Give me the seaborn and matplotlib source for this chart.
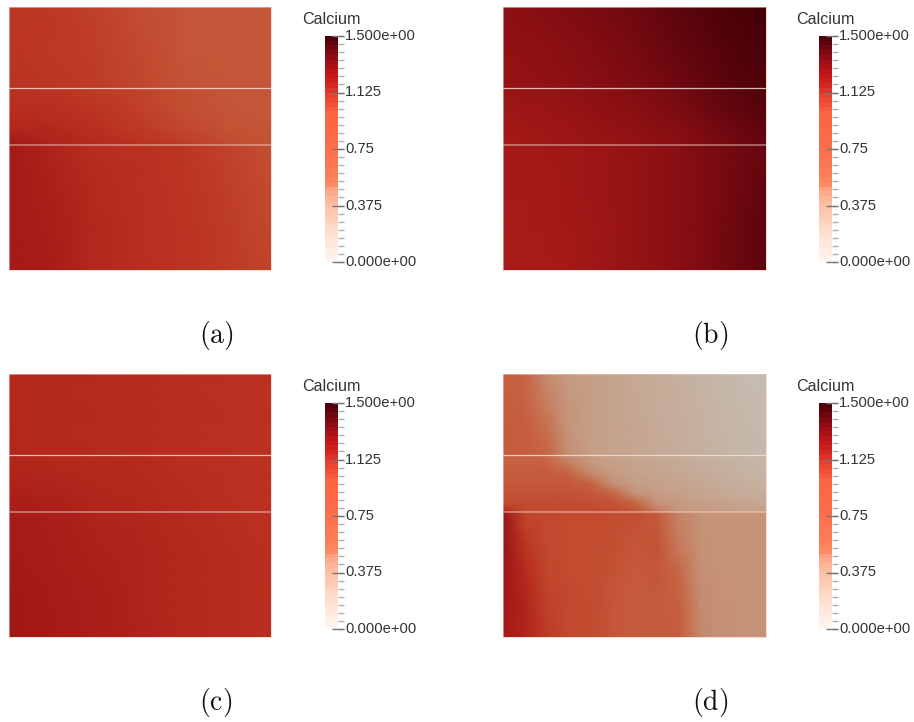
import numpy as np
import matplotlib
matplotlib.use("Agg")
import matplotlib.pyplot as plt
from matplotlib.colors import LinearSegmentedColormap
import seaborn as sns

FIG_W, FIG_H = 914, 722

# colours the field shows on screen (muted by the viewer), value -> colour
field_values = [0.0, 0.2, 0.3, 0.4, 0.5, 0.6, 0.7, 0.8, 0.9, 1.0, 1.1, 1.2, 1.3, 1.4, 1.5]
field_colors = ["#c5c0b6", "#c5bcb0", "#c5b5a6", "#c5ab98", "#c5a088", "#c59378", "#c67f60", "#c66545",
                "#c45336", "#c04028", "#b92e20", "#a81b17", "#8d1013", "#6a0810", "#430006"]

# colour bar stops
bar_values = [0.0, 0.17, 0.3, 0.375, 0.47, 0.5, 0.56, 0.75, 1.0, 1.07, 1.125, 1.2, 1.27, 1.35, 1.42, 1.5]
bar_colors = ["#fff5f0", "#fee0d0", "#fdcab5", "#fdbea4", "#fca588", "#fb8d68", "#fb7f58", "#fb6f4c", "#fa6342",
              "#ef4a34", "#e34030", "#d0201f", "#bf141b", "#9c0e16", "#780812", "#4f000c"]
bar_ticks = [0.0, 0.375, 0.75, 1.125, 1.5]
bar_labels = ["0.000e+00", "0.375", "0.75", "1.125", "1.500e+00"]

# panel a
a_top = [[1.05, 1.04, 1.00, 0.93, 0.89, 0.89, 0.89],
         [1.06, 1.04, 1.01, 0.95, 0.89, 0.89, 0.89],
         [1.07, 1.05, 1.02, 0.97, 0.90, 0.89, 0.89]]
a_mid = [[1.08, 1.06, 1.02, 0.98, 0.92, 0.89, 0.89],
         [1.10, 1.09, 1.05, 1.00, 0.92, 0.89, 0.89],
         [1.13, 1.12, 1.08, 1.03, 0.96, 0.90, 0.89],
         [1.22, 1.16, 1.12, 1.08, 1.03, 0.94, 0.90]]
a_bot = [[1.21, 1.15, 1.10, 1.08, 1.05, 0.99, 0.92],
         [1.21, 1.17, 1.12, 1.09, 1.06, 1.01, 0.94],
         [1.21, 1.18, 1.13, 1.09, 1.07, 1.02, 0.96],
         [1.21, 1.19, 1.13, 1.10, 1.07, 1.03, 0.98]]

# panel b
b_top = [[1.30, 1.32, 1.35, 1.38, 1.43, 1.47, 1.50],
         [1.28, 1.30, 1.33, 1.36, 1.41, 1.45, 1.48],
         [1.26, 1.28, 1.31, 1.34, 1.38, 1.43, 1.46]]
b_mid = [[1.26, 1.27, 1.30, 1.33, 1.37, 1.42, 1.46],
         [1.24, 1.25, 1.28, 1.31, 1.35, 1.41, 1.45],
         [1.22, 1.24, 1.26, 1.29, 1.33, 1.38, 1.43],
         [1.21, 1.23, 1.25, 1.27, 1.31, 1.36, 1.41]]
b_bot = [[1.21, 1.22, 1.24, 1.27, 1.31, 1.36, 1.41],
         [1.21, 1.21, 1.24, 1.27, 1.31, 1.36, 1.42],
         [1.20, 1.21, 1.23, 1.27, 1.31, 1.37, 1.43],
         [1.20, 1.20, 1.23, 1.27, 1.31, 1.37, 1.43]]

# panel c
c_top = [[1.13, 1.13, 1.12, 1.11, 1.10, 1.09, 1.08],
         [1.13, 1.13, 1.12, 1.11, 1.10, 1.09, 1.08],
         [1.14, 1.13, 1.12, 1.11, 1.10, 1.09, 1.08]]
c_mid = [[1.14, 1.13, 1.12, 1.12, 1.10, 1.09, 1.08],
         [1.15, 1.14, 1.13, 1.12, 1.10, 1.09, 1.08],
         [1.17, 1.16, 1.14, 1.13, 1.11, 1.09, 1.08],
         [1.20, 1.18, 1.15, 1.14, 1.12, 1.10, 1.08]]
c_bot = [[1.20, 1.18, 1.15, 1.14, 1.12, 1.10, 1.08],
         [1.21, 1.19, 1.17, 1.15, 1.13, 1.11, 1.09],
         [1.22, 1.20, 1.18, 1.15, 1.13, 1.11, 1.09],
         [1.22, 1.21, 1.18, 1.16, 1.13, 1.11, 1.09]]

# panel d
d_top = [[0.83, 0.80, 0.64, 0.55, 0.50, 0.47, 0.42, 0.40, 0.36, 0.32, 0.27, 0.22, 0.20],
         [0.84, 0.82, 0.70, 0.57, 0.51, 0.47, 0.43, 0.40, 0.37, 0.33, 0.29, 0.24, 0.22],
         [0.85, 0.84, 0.76, 0.59, 0.52, 0.47, 0.44, 0.41, 0.38, 0.34, 0.30, 0.26, 0.24],
         [0.85, 0.85, 0.80, 0.62, 0.52, 0.48, 0.45, 0.42, 0.39, 0.35, 0.32, 0.28, 0.26]]
d_mid = [[0.82, 0.82, 0.78, 0.62, 0.53, 0.49, 0.45, 0.43, 0.40, 0.36, 0.33, 0.30, 0.28],
         [0.83, 0.83, 0.82, 0.72, 0.56, 0.50, 0.47, 0.44, 0.41, 0.38, 0.35, 0.31, 0.29],
         [0.85, 0.85, 0.85, 0.82, 0.66, 0.54, 0.49, 0.46, 0.44, 0.40, 0.37, 0.33, 0.31],
         [0.87, 0.87, 0.87, 0.87, 0.82, 0.62, 0.52, 0.49, 0.46, 0.43, 0.39, 0.36, 0.34],
         [0.90, 0.90, 0.90, 0.90, 0.88, 0.80, 0.60, 0.52, 0.50, 0.46, 0.42, 0.39, 0.37],
         [0.93, 0.93, 0.93, 0.93, 0.92, 0.90, 0.80, 0.60, 0.54, 0.50, 0.47, 0.44, 0.42],
         [1.15, 0.95, 0.95, 0.95, 0.95, 0.94, 0.90, 0.74, 0.58, 0.55, 0.53, 0.51, 0.50]]
d_bot = [[1.25, 0.97, 0.95, 0.94, 0.94, 0.93, 0.92, 0.86, 0.68, 0.60, 0.60, 0.60, 0.60],
         [1.25, 1.05, 0.95, 0.94, 0.94, 0.92, 0.88, 0.90, 0.72, 0.61, 0.60, 0.60, 0.60],
         [1.24, 1.12, 0.97, 0.94, 0.94, 0.90, 0.86, 0.88, 0.80, 0.62, 0.60, 0.60, 0.60],
         [1.22, 1.15, 1.00, 0.95, 0.94, 0.88, 0.85, 0.86, 0.84, 0.64, 0.61, 0.60, 0.60],
         [1.20, 1.15, 1.02, 0.95, 0.94, 0.88, 0.85, 0.85, 0.85, 0.66, 0.61, 0.60, 0.60]]

panels = [("(a)", a_top, a_mid, a_bot), ("(b)", b_top, b_mid, b_bot),
          ("(c)", c_top, c_mid, c_bot), ("(d)", d_top, d_mid, d_bot)]

field_cmap = LinearSegmentedColormap.from_list("field", [(v / 1.5, c) for v, c in zip(field_values, field_colors)])
bar_cmap = LinearSegmentedColormap.from_list("bar", [(v / 1.5, c) for v, c in zip(bar_values, bar_colors)])


def px_axes(x0, y0, x1, y1, **kw):
    return fig.add_axes([x0 / FIG_W, 1 - y1 / FIG_H, (x1 - x0) / FIG_W, (y1 - y0) / FIG_H], **kw)


def draw_region(grid, x0, y0, x1, y1):
    ax = px_axes(x0, y0, x1, y1)
    grid = np.array(grid)
    sns.heatmap(grid, ax=ax, cmap=field_cmap, vmin=0, vmax=1.5, cbar=False, shading="gouraud",
                xticklabels=False, yticklabels=False)
    ax.set_xlim(0, grid.shape[1] - 1)
    ax.set_ylim(grid.shape[0] - 1, 0)
    ax.axis("off")


def draw_colorbar(x0, y0):
    ax = px_axes(x0, y0, x0 + 13, y0 + 226)
    steps = np.linspace(1.5, 0, 48).reshape(-1, 1)
    sns.heatmap(steps, ax=ax, cmap=bar_cmap, vmin=0, vmax=1.5, cbar=False, xticklabels=False, yticklabels=False)
    ax.set_ylim(48, 0)
    ax.axis("off")
    # ticks in their own axes so they can run over the bar
    t = px_axes(x0 - 8, y0, x0 + 30, y0 + 226)
    t.set_xlim(x0 - 8, x0 + 30)
    t.set_ylim(0, 1.5)
    t.patch.set_alpha(0)
    t.axis("off")
    for i in range(29):
        v = 1.5 * i / 28
        t.plot([x0 + 13, x0 + 19], [v, v], color="#b0b0b0", lw=1, solid_capstyle="butt", clip_on=False)
    for v, lab in zip(bar_ticks, bar_labels):
        t.plot([x0 + 7, x0 + 19], [v, v], color="#777777", lw=1, solid_capstyle="butt", clip_on=False)
        t.text(x0 + 20, v, lab, fontsize=10.6, va="center", ha="left", color="#333333", clip_on=False)
    t.text(x0 - 23, 1.5 + 0.06, "Calcium", fontsize=11.6, va="bottom", ha="left", color="#333333", clip_on=False)


sns.set_theme(style="white")
plt.rcParams["font.family"] = ["Liberation Sans", "DejaVu Sans"]
plt.rcParams["mathtext.fontset"] = "cm"

fig = plt.figure(figsize=(FIG_W / 100, FIG_H / 100), dpi=100, facecolor="white")

lefts = [9, 503, 9, 503]
tops = [7, 7, 374, 374]
widths = [262, 263, 262, 263]
for (name, top, mid, bot), x0, y0, w in zip(panels, lefts, tops, widths):
    x1 = x0 + w
    draw_region(top, x0, y0, x1, y0 + 81)
    draw_region(mid, x0, y0 + 81, x1, y0 + 138)
    draw_region(bot, x0, y0 + 138, x1, y0 + 263)

    over = px_axes(x0, y0, x1, y0 + 263)
    over.set_xlim(0, w)
    over.set_ylim(263, 0)
    over.patch.set_alpha(0)
    over.set_xticks([])
    over.set_yticks([])
    for s in over.spines.values():
        s.set_color("#f2c9bd")
        s.set_linewidth(0.6)
        s.set_alpha(0.7)
    over.axhline(81, color="#f5e6df", lw=0.9, alpha=0.8)
    over.axhline(138, color="#f5dcd2", lw=1.1, alpha=0.55)

    draw_colorbar(x0 + 316, y0 + 29)
    fig.text((x0 + 207) / FIG_W, 1 - (y0 + 328.5) / FIG_H, r"$\mathrm{" + name + "}$", fontsize=20,
             ha="center", va="center", color="#111111")

fig.savefig("out.png", dpi=100)
